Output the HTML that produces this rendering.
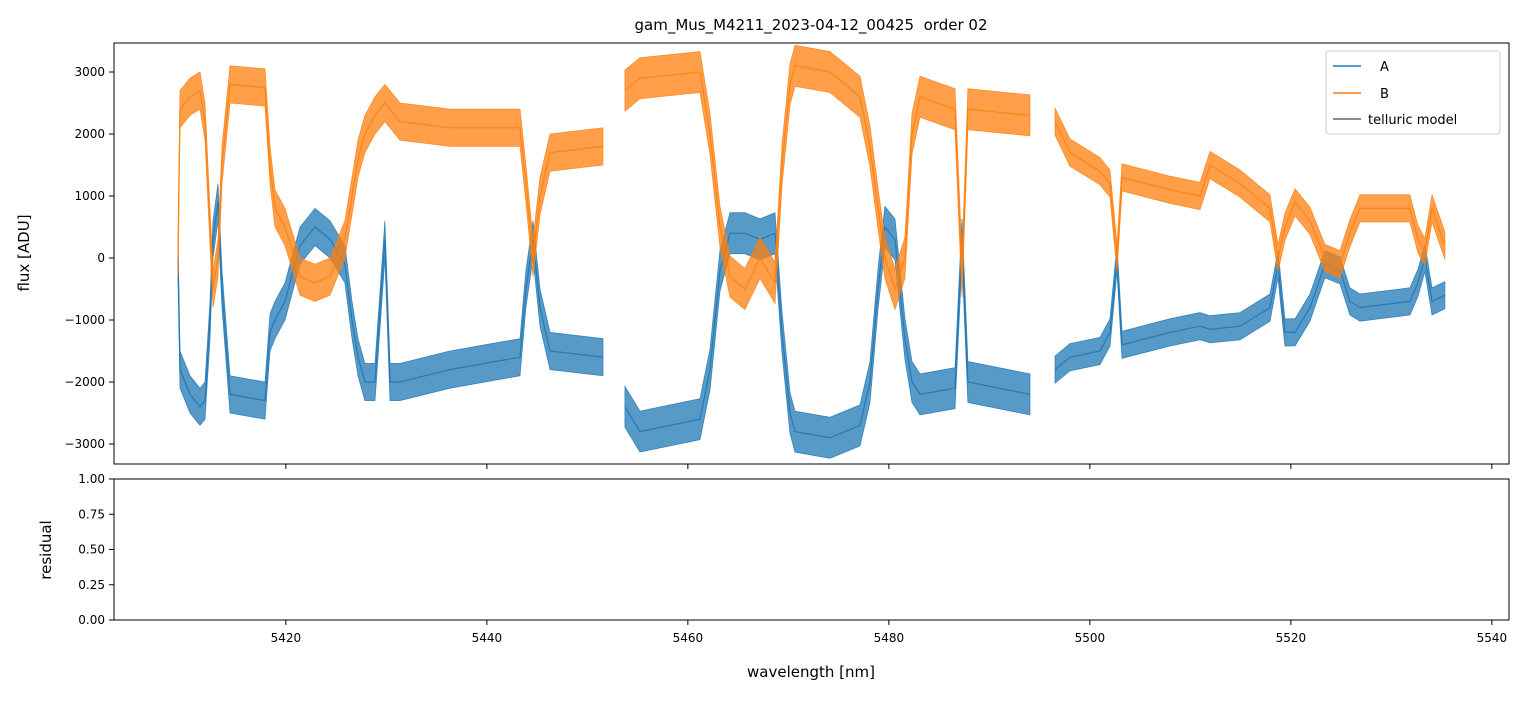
<!DOCTYPE html>
<html><head><meta charset="utf-8"><style>
body{margin:0;background:#fff;}
svg text{font-family:"DejaVu Sans","Liberation Sans",sans-serif;fill:#000;}
</style></head><body>
<svg id="chart" width="1529" height="696" xmlns="http://www.w3.org/2000/svg">
<defs>
<clipPath id="clipTop"><rect x="114" y="43" width="1395" height="421"/></clipPath>
</defs>
<rect x="0" y="0" width="1529" height="696" fill="#fff"/>
<text x="811" y="30" font-size="15" text-anchor="middle">gam_Mus_M4211_2023-04-12_00425&#160; order 02</text>
<g id="series" clip-path="url(#clipTop)"></g>
<rect x="114" y="43" width="1395" height="421" fill="none" stroke="#000" stroke-width="1"/>
<rect x="114" y="479" width="1395" height="141" fill="none" stroke="#000" stroke-width="1"/>
<g id="axes"></g>
<text transform="translate(29,253) rotate(-90)" font-size="15" text-anchor="middle">flux [ADU]</text>
<text transform="translate(51,550) rotate(-90)" font-size="15" text-anchor="middle">residual</text>
<text x="811" y="677" font-size="15" text-anchor="middle">wavelength [nm]</text>
<g>
<rect x="1326" y="51" width="174" height="83" rx="3" fill="#fff" fill-opacity="0.8" stroke="#ccc"/>
<line x1="1333" y1="66" x2="1361" y2="66" stroke="#1f77b4" stroke-width="1.5"/>
<text x="1380" y="71" font-size="13">A</text>
<line x1="1333" y1="93" x2="1361" y2="93" stroke="#ff7f0e" stroke-width="1.5"/>
<text x="1380" y="98" font-size="13">B</text>
<line x1="1333" y1="119" x2="1361" y2="119" stroke="#666" stroke-width="1.5"/>
<text x="1368" y="124" font-size="13">telluric model</text>
</g>
</svg>
<script>
const wl1=[5409.27,5409.47,5410.46,5411.46,5411.95,5412.45,5412.75,5413.25,5413.65,5414.44,5417.92,5418.42,5418.92,5419.91,5421.41,5422.90,5424.39,5425.88,5426.58,5427.18,5427.87,5428.87,5429.86,5430.36,5431.36,5436.33,5443.30,5443.89,5444.59,5445.29,5446.28,5451.56];
const b1=[0,2400,2600,2700,2200,500,-500,0,1500,2800,2750,1500,800,500,-300,-400,-300,300,1000,1600,2000,2300,2500,2400,2200,2100,2100,1200,0,1000,1700,1800];
const a1=[0,-1800,-2200,-2400,-2300,-1000,300,900,-500,-2200,-2300,-1200,-1000,-700,200,500,300,-100,-1000,-1600,-2000,-2000,300,-2000,-2000,-1800,-1600,-500,300,-800,-1500,-1600];
const wl2=[5453.74,5455.24,5461.21,5462.20,5463.20,5464.19,5465.68,5467.18,5468.67,5469.37,5470.16,5470.66,5474.14,5477.13,5478.12,5478.92,5479.61,5480.61,5481.60,5482.30,5483.10,5486.58,5487.28,5487.87,5494.04];
const b2=[2700,2900,3000,2000,500,-300,-500,0,-400,1500,2800,3100,3000,2600,1800,800,0,-500,0,2000,2600,2400,-300,2400,2300];
const a2=[-2400,-2800,-2600,-1800,-200,400,400,300,400,-1200,-2500,-2800,-2900,-2700,-2000,-500,500,300,-1300,-2000,-2200,-2100,300,-2000,-2200];
const wl3=[5496.53,5498.02,5501.01,5502.00,5502.70,5503.20,5507.97,5510.96,5511.95,5514.94,5517.92,5518.72,5519.41,5520.41,5521.90,5523.39,5524.89,5525.88,5526.88,5531.85,5532.65,5533.34,5534.04,5535.33];
const b3=[2200,1700,1400,1200,0,1300,1100,1000,1500,1200,800,0,500,900,600,0,-100,400,800,800,300,100,800,200];
const a3=[-1800,-1600,-1500,-1200,0,-1400,-1200,-1100,-1150,-1100,-800,-100,-1200,-1200,-800,-100,-200,-700,-800,-700,-400,0,-700,-600];
const noiseA=[300,330,220];
const noiseB=[300,330,220];
const xTicks=[5420,5440,5460,5480,5500,5520,5540];
const yTicks=[-3000,-2000,-1000,0,1000,2000,3000];
const rTicks=[0,0.25,0.5,0.75,1.0];

const NS="http://www.w3.org/2000/svg";
const X=w=>114+(w-5402.9)*10.05;
const Y=v=>258-v*0.062;
const R=v=>620-v*141;
const g=document.getElementById('series');
const ax=document.getElementById('axes');
function mk(tag,attrs,parent){const e=document.createElementNS(NS,tag);for(const k in attrs)e.setAttribute(k,attrs[k]);parent.appendChild(e);return e;}

function drawSeries(wl,vals,noise,color,name){
  let up=[],dn=[],mid=[];
  for(let i=0;i<wl.length;i++){
    up.push(X(wl[i]).toFixed(1)+','+Y(vals[i]+noise).toFixed(1));
    dn.unshift(X(wl[i]).toFixed(1)+','+Y(vals[i]-noise).toFixed(1));
    mid.push(X(wl[i]).toFixed(1)+','+Y(vals[i]).toFixed(1));
  }
  const band=mk('polygon',{points:up.concat(dn).join(' '),fill:color,'fill-opacity':'0.75',stroke:color,'stroke-opacity':'0.8','stroke-width':'0.8'},g);
  
  
  const ln=mk('polyline',{points:mid.join(' '),fill:'none',stroke:color,'stroke-width':'1.2','stroke-opacity':'0.9'},g);
  
  
}
const segs=[[wl1,a1,b1],[wl2,a2,b2],[wl3,a3,b3]];
segs.forEach((s,i)=>drawSeries(s[0],s[1],noiseA[i],'#1f77b4','series-a-seg'+(i+1)));
segs.forEach((s,i)=>drawSeries(s[0],s[2],noiseB[i],'#ff7f0e','series-b-seg'+(i+1)));

xTicks.forEach(t=>{
  const x=X(t);
  mk('line',{x1:x,y1:464,x2:x,y2:469,stroke:'#000'},ax);
  mk('line',{x1:x,y1:620,x2:x,y2:625,stroke:'#000'},ax);
  const tx=mk('text',{x:x,y:642,'font-size':'12','text-anchor':'middle'},ax);
  tx.textContent=t;
  
  
});
yTicks.forEach(t=>{
  const y=Y(t);
  mk('line',{x1:109,y1:y,x2:114,y2:y,stroke:'#000'},ax);
  const tx=mk('text',{x:105,y:y+4,'font-size':'12','text-anchor':'end'},ax);
  tx.textContent=t<0?'\u2212'+Math.abs(t):t;
  
  
});
rTicks.forEach(t=>{
  const y=R(t);
  mk('line',{x1:109,y1:y,x2:114,y2:y,stroke:'#000'},ax);
  const tx=mk('text',{x:105,y:y+4,'font-size':'12','text-anchor':'end'},ax);
  tx.textContent=t.toFixed(2);
  
  
});
</script>
</body></html>
